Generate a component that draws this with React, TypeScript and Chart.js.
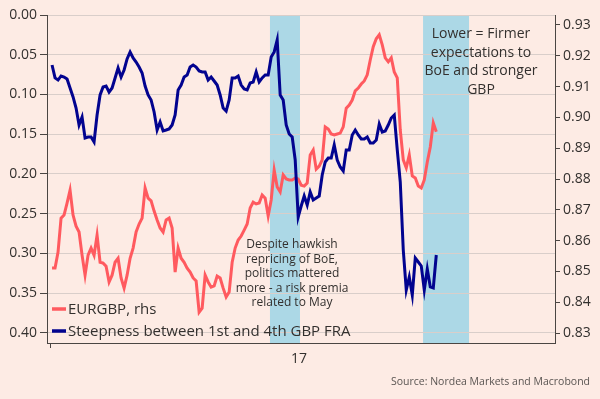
import React, { useEffect, useRef } from "react";
import { Chart, registerables } from "chart.js";

Chart.register(...registerables);

// x axis in days since 1 Jan 2017; one sample every DAY_STEP days
const DAY_START = 1.5;
const DAY_STEP = 2.2;
const X_MIN = -2.2;
const X_MAX = 370.1;
const X_TICKS = [0, 182.5];
const X_LABELS = ["", "17"];

const LEFT_TICKS = [0, 0.05, 0.1, 0.15, 0.2, 0.25, 0.3, 0.35, 0.4];
const RIGHT_TICKS = [0.83, 0.84, 0.85, 0.86, 0.87, 0.88, 0.89, 0.9, 0.91, 0.92, 0.93];

// shaded periods [startDay, endDay]
const SHADED = [
  [161.2, 183.2],
  [273.4, 307.1],
];

const STEEPNESS = [
  0.0629, 0.0792, 0.0818, 0.0767, 0.078, 0.0805, 0.0918, 0.1031, 0.117, 0.1384,
  0.1283, 0.1547, 0.1535, 0.1535, 0.1597, 0.1258, 0.1006, 0.0906, 0.0893, 0.0969,
  0.0918, 0.0792, 0.0667, 0.078, 0.0692, 0.0553, 0.0465, 0.0541, 0.0591, 0.0654,
  0.073, 0.0893, 0.1006, 0.1069, 0.122, 0.1447, 0.1346, 0.1459, 0.1447, 0.1434,
  0.1384, 0.1258, 0.0943, 0.0881, 0.078, 0.0755, 0.0654, 0.0629, 0.0654, 0.0704,
  0.0717, 0.0717, 0.0818, 0.078, 0.083, 0.0881, 0.1006, 0.117, 0.1208, 0.1069,
  0.0792, 0.0792, 0.0767, 0.0881, 0.0931, 0.0943, 0.0855, 0.0843, 0.0717, 0.0843,
  0.0792, 0.0755, 0.0755, 0.0528, 0.0465, 0.0314, 0.1006, 0.1069, 0.1384, 0.1497,
  0.1535, 0.1824, 0.2541, 0.2403, 0.2277, 0.239, 0.2226, 0.2327, 0.2302, 0.2277,
  0.2013, 0.1849, 0.1799, 0.1799, 0.1635, 0.1824, 0.1912, 0.1962, 0.1698, 0.1698,
  0.1509, 0.1447, 0.1509, 0.156, 0.156, 0.1535, 0.161, 0.161, 0.1572, 0.1371,
  0.1472, 0.1459, 0.1384, 0.1296, 0.1258, 0.1698, 0.2101, 0.2956, 0.3459, 0.3296,
  0.3522, 0.3057, 0.3107, 0.3157, 0.3459, 0.3195, 0.3421, 0.3434, 0.3019,
];

const EURGBP = [
  0.8511, 0.8511, 0.8563, 0.8673, 0.8683, 0.8722, 0.8764, 0.8683, 0.8647, 0.8628,
  0.8553, 0.8488, 0.8553, 0.8576, 0.8553, 0.8618, 0.853, 0.8527, 0.8517, 0.8466,
  0.8488, 0.853, 0.8543, 0.8479, 0.8446, 0.8488, 0.8543, 0.8576, 0.8628, 0.8654,
  0.8673, 0.8771, 0.8738, 0.8729, 0.8696, 0.8667, 0.8641, 0.8628, 0.8667, 0.8673,
  0.8641, 0.8498, 0.8576, 0.8543, 0.853, 0.8511, 0.8498, 0.8479, 0.8469, 0.8368,
  0.8381, 0.8488, 0.8466, 0.8449, 0.8453, 0.8485, 0.8479, 0.8446, 0.8417, 0.8433,
  0.853, 0.8576, 0.8602, 0.8615, 0.8634, 0.8654, 0.8706, 0.8725, 0.8719, 0.8722,
  0.8748, 0.8738, 0.868, 0.8732, 0.8829, 0.8774, 0.8758, 0.8813, 0.88, 0.8797,
  0.8797, 0.8803, 0.88, 0.878, 0.8777, 0.8787, 0.8878, 0.8894, 0.8832, 0.8842,
  0.8862, 0.8969, 0.8962, 0.8946, 0.8943, 0.8946, 0.8949, 0.8969, 0.903, 0.904,
  0.9056, 0.9086, 0.9095, 0.9108, 0.9118, 0.9138, 0.9186, 0.9229, 0.9255, 0.9268,
  0.9235, 0.9193, 0.918, 0.9193, 0.9147, 0.9128, 0.8959, 0.8862, 0.8836, 0.8878,
  0.881, 0.8803, 0.8777, 0.8771, 0.8797, 0.8855, 0.8904, 0.8982, 0.8953,
];

const LEGEND = [
  { label: "EURGBP, rhs", color: "#ff5a5f" },
  { label: "Steepness between 1st and 4th GBP FRA", color: "#02038f" },
];
const NOTE_RIGHT = ["Lower = Firmer", "expectations to", "BoE and stronger", "GBP"];
const NOTE_MID = ["Despite hawkish", "repricing of BoE,", "politics mattered", "more - a risk premia", "related to May"];
const SOURCE = "Source: Nordea Markets and Macrobond";

const BG = "#fdebe4";
const SHADE = "#acd8e6";
const AXIS = "#4a4542";
const GRID = "#d9ceca";
const TEXT = "#33302e";
const FONT = "'Open Sans', sans-serif";

export default function App() {
  const ref = useRef<HTMLCanvasElement | null>(null);

  useEffect(() => {
    const canvas = ref.current;
    if (!canvas) return;

    const days = STEEPNESS.map((_, i) => DAY_START + i * DAY_STEP);

    const bgPlugin = {
      id: "bgShade",
      beforeDraw(chart: any) {
        const { ctx, chartArea, scales } = chart;
        ctx.save();
        ctx.fillStyle = BG;
        ctx.fillRect(0, 0, chart.width, chart.height);
        ctx.fillStyle = SHADE;
        for (const [a, b] of SHADED) {
          const x1 = scales.x.getPixelForValue(a);
          const x2 = scales.x.getPixelForValue(b);
          ctx.fillRect(x1, chartArea.top, x2 - x1, chartArea.bottom - chartArea.top);
        }
        ctx.restore();
      },
    };

    const textPlugin = {
      id: "texts",
      afterDatasetsDraw(chart: any) {
        const { ctx, chartArea } = chart;
        ctx.save();
        // legend
        ctx.textBaseline = "middle";
        ctx.textAlign = "left";
        ctx.font = `15px ${FONT}`;
        LEGEND.forEach((item, i) => {
          const y = chartArea.bottom - 34 + i * 22;
          ctx.strokeStyle = item.color;
          ctx.lineWidth = 3.5;
          ctx.beginPath();
          ctx.moveTo(chartArea.left + 5, y);
          ctx.lineTo(chartArea.left + 19, y);
          ctx.stroke();
          ctx.fillStyle = TEXT;
          ctx.fillText(item.label, chartArea.left + 21, y + 1);
        });
        // right note
        ctx.textAlign = "center";
        ctx.font = `14px ${FONT}`;
        NOTE_RIGHT.forEach((t, i) => {
          ctx.fillText(t, 481, 34 + i * 18.7);
        });
        // middle note
        ctx.font = `12px ${FONT}`;
        NOTE_MID.forEach((t, i) => {
          ctx.fillText(t, 292, 245 + i * 14.5);
        });
        // source
        ctx.textAlign = "right";
        ctx.font = `10.5px ${FONT}`;
        ctx.fillStyle = "#5a5552";
        ctx.fillText(SOURCE, 590, 382);
        ctx.restore();
      },
    };

    const chart = new Chart(canvas, {
      type: "line",
      data: {
        datasets: [
          {
            label: LEGEND[1].label,
            data: STEEPNESS.map((v, i) => ({ x: days[i], y: v })),
            yAxisID: "y",
            borderColor: LEGEND[1].color,
            borderWidth: 3,
            pointRadius: 0,
            tension: 0,
            order: 0,
          },
          {
            label: LEGEND[0].label,
            data: EURGBP.map((v, i) => ({ x: days[i], y: v })),
            yAxisID: "y1",
            borderColor: LEGEND[0].color,
            borderWidth: 3,
            pointRadius: 0,
            tension: 0,
            order: 1,
          },
        ],
      },
      options: {
        animation: false,
        responsive: false,
        devicePixelRatio: 1,
        layout: { padding: { top: 15, left: 0, right: 0, bottom: 0 } },
        plugins: { legend: { display: false }, tooltip: { enabled: false } },
        scales: {
          x: {
            type: "linear",
            min: X_MIN,
            max: X_MAX,
            afterBuildTicks: (s: any) => {
              s.ticks = X_TICKS.map((v) => ({ value: v }));
            },
            afterFit: (s: any) => {
              s.height = 56;
            },
            ticks: {
              autoSkip: false,
              maxRotation: 0,
              padding: 3,
              color: TEXT,
              font: { family: FONT, size: 14 },
              callback: (v: any) => {
                const k = X_TICKS.indexOf(Number(v));
                return k >= 0 ? X_LABELS[k] : "";
              },
            },
            grid: {
              drawOnChartArea: false,
              drawTicks: true,
              tickLength: 5,
              tickColor: (c: any) => (c.tick && c.tick.value === 0 ? AXIS : "rgba(0,0,0,0)"),
            },
            border: { color: AXIS, width: 1 },
          },
          y: {
            type: "linear",
            position: "left",
            reverse: true,
            min: 0,
            max: 0.4126,
            afterBuildTicks: (s: any) => {
              s.ticks = LEFT_TICKS.map((v) => ({ value: v }));
            },
            afterFit: (s: any) => {
              s.width = 47;
            },
            ticks: {
              padding: 3,
              color: TEXT,
              font: { family: FONT, size: 14 },
              callback: (v: any) => Number(v).toFixed(2),
            },
            grid: {
              color: GRID,
              lineWidth: 1,
              drawTicks: true,
              tickLength: 7,
              tickColor: AXIS,
            },
            border: { color: AXIS, width: 1 },
          },
          y1: {
            type: "linear",
            position: "right",
            min: 0.8268,
            max: 0.9332,
            afterBuildTicks: (s: any) => {
              s.ticks = RIGHT_TICKS.map((v) => ({ value: v }));
            },
            afterFit: (s: any) => {
              s.width = 45;
            },
            ticks: {
              padding: 3,
              color: TEXT,
              font: { family: FONT, size: 14 },
              callback: (v: any) => Number(v).toFixed(2),
            },
            grid: {
              drawOnChartArea: false,
              drawTicks: true,
              tickLength: 5,
              tickColor: AXIS,
            },
            border: { color: AXIS, width: 1 },
          },
        },
      },
      plugins: [bgPlugin, textPlugin],
    });

    return () => chart.destroy();
  }, []);

  return (
    <div style={{ position: "fixed", left: 0, top: 0, width: 600, height: 399, background: BG }}>
      <canvas ref={ref} width={600} height={399} style={{ display: "block", width: 600, height: 399 }} />
    </div>
  );
}
